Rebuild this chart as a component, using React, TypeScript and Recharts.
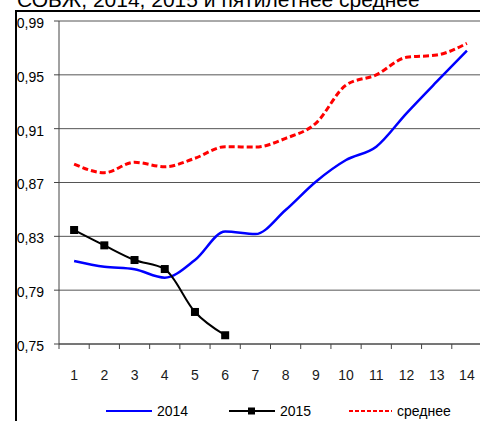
import React from 'react';
import { LineChart, Line, XAxis, YAxis, CartesianGrid } from 'recharts';

const categories = ['1', '2', '3', '4', '5', '6', '7', '8', '9', '10', '11', '12', '13', '14'];
const series2014 = [0.8117, 0.8074, 0.8055, 0.7993, 0.8124, 0.8335, 0.8317, 0.8496, 0.8706, 0.8867, 0.8966, 0.9214, 0.9449, 0.9679];
const series2015 = [0.8347, 0.8233, 0.8124, 0.8057, 0.7738, 0.7565];
const seriesAvg = [0.8837, 0.8773, 0.885, 0.8817, 0.888, 0.8966, 0.8963, 0.9028, 0.914, 0.9424, 0.95, 0.963, 0.9647, 0.9734];
const yTicks = [0.75, 0.79, 0.83, 0.87, 0.91, 0.95, 0.99];
const legendLabels = ['2014', '2015', 'среднее'];
const titleText = 'СОБЖ, 2014, 2015 и пятилетнее среднее';

const data = categories.map((c, i) => ({
  cat: c,
  y2014: series2014[i],
  y2015: i < series2015.length ? series2015[i] : null,
  avg: seriesAvg[i],
}));

const CHART_W = 484;
const CHART_H = 421;
const MARGIN = { top: 21, right: 2, left: 0, bottom: 0 };
const Y_AXIS_W = 59;
const X_AXIS_H = 77;
const PLOT_W = CHART_W - MARGIN.left - MARGIN.right - Y_AXIS_W;
const BAND = PLOT_W / categories.length;
const FONT = '"Liberation Sans", Arial, sans-serif';

const XTick = (props: any) => {
  const { x, y, payload, index } = props;
  const half = BAND / 2;
  return (
    <g>
      <line x1={x - half} x2={x - half} y1={y} y2={y + 5} stroke="#444" strokeWidth={1} />
      {index === categories.length - 1 && (
        <line x1={x + half} x2={x + half} y1={y} y2={y + 5} stroke="#444" strokeWidth={1} />
      )}
      <text x={x} y={y + 36} textAnchor="middle" fontSize={14} fill="#1a1a1a" fontFamily={FONT}>
        {payload.value}
      </text>
    </g>
  );
};

const SquareDot = (props: any) => {
  const { cx, cy, index } = props;
  if (cx == null || cy == null) return <g key={index} />;
  return <rect key={index} x={cx - 4} y={cy - 4} width={8} height={8} fill="#000" />;
};

export default function App() {
  return (
    <div
      style={{
        position: 'absolute',
        left: 0,
        top: 0,
        width: 480,
        height: 421,
        overflow: 'hidden',
        background: '#fff',
        fontFamily: FONT,
      }}
    >
      <div
        style={{
          position: 'absolute',
          left: 17,
          top: -11,
          fontSize: 21,
          lineHeight: '21px',
          whiteSpace: 'nowrap',
          color: '#000',
        }}
      >
        {titleText}
      </div>
      <div style={{ position: 'absolute', left: 15, top: 10, width: 470, height: 2, background: '#000' }} />
      <div style={{ position: 'absolute', left: 15, top: 10, width: 2, height: 420, background: '#000' }} />
      <div style={{ position: 'absolute', left: 0, top: 0 }}>
        <LineChart width={CHART_W} height={CHART_H} data={data} margin={MARGIN}>
          <CartesianGrid vertical={false} stroke="#555" strokeWidth={1} />
          <XAxis
            dataKey="cat"
            height={X_AXIS_H}
            interval={0}
            padding={{ left: BAND / 2, right: BAND / 2 }}
            tickLine={false}
            tickSize={0}
            tickMargin={0}
            axisLine={{ stroke: '#444' }}
            tick={<XTick />}
          />
          <YAxis
            width={Y_AXIS_W}
            domain={[0.75, 0.99]}
            ticks={yTicks}
            type="number"
            allowDataOverflow
            tickSize={5}
            tickMargin={10}
            tickLine={{ stroke: '#444' }}
            axisLine={{ stroke: '#444' }}
            tick={{ fontSize: 14, fill: '#000', fontFamily: FONT, dy: 2 }}
            tickFormatter={(v: number) => v.toFixed(2).replace('.', ',')}
          />
          <Line
            type="monotone"
            dataKey="y2014"
            stroke="#0000ff"
            strokeWidth={2.5}
            dot={false}
            isAnimationActive={false}
          />
          <Line
            type="monotone"
            dataKey="avg"
            stroke="#ff0000"
            strokeWidth={3}
            strokeDasharray="6 3"
            dot={false}
            isAnimationActive={false}
          />
          <Line
            type="monotone"
            dataKey="y2015"
            stroke="#000"
            strokeWidth={2}
            dot={<SquareDot />}
            connectNulls={false}
            isAnimationActive={false}
          />
        </LineChart>
      </div>
      <div style={{ position: 'absolute', left: 106, top: 402, height: 18, fontSize: 14, color: '#000' }}>
        <div style={{ position: 'absolute', left: 0, top: 0, display: 'flex', alignItems: 'center', whiteSpace: 'nowrap' }}>
          <svg width={46} height={18}>
            <line x1={0} x2={46} y1={9} y2={9} stroke="#0000ff" strokeWidth={2} />
          </svg>
          <span style={{ marginLeft: 5 }}>{legendLabels[0]}</span>
        </div>
        <div style={{ position: 'absolute', left: 123, top: 0, display: 'flex', alignItems: 'center', whiteSpace: 'nowrap' }}>
          <svg width={46} height={18}>
            <line x1={0} x2={46} y1={9} y2={9} stroke="#000" strokeWidth={2} />
            <rect x={19} y={5.5} width={7} height={7} fill="#000" />
          </svg>
          <span style={{ marginLeft: 5 }}>{legendLabels[1]}</span>
        </div>
        <div style={{ position: 'absolute', left: 243, top: 0, display: 'flex', alignItems: 'center', whiteSpace: 'nowrap' }}>
          <svg width={43} height={18}>
            <line x1={0} x2={43} y1={9} y2={9} stroke="#ff0000" strokeWidth={2} strokeDasharray="4 2" />
          </svg>
          <span style={{ marginLeft: 5 }}>{legendLabels[2]}</span>
        </div>
      </div>
    </div>
  );
}
